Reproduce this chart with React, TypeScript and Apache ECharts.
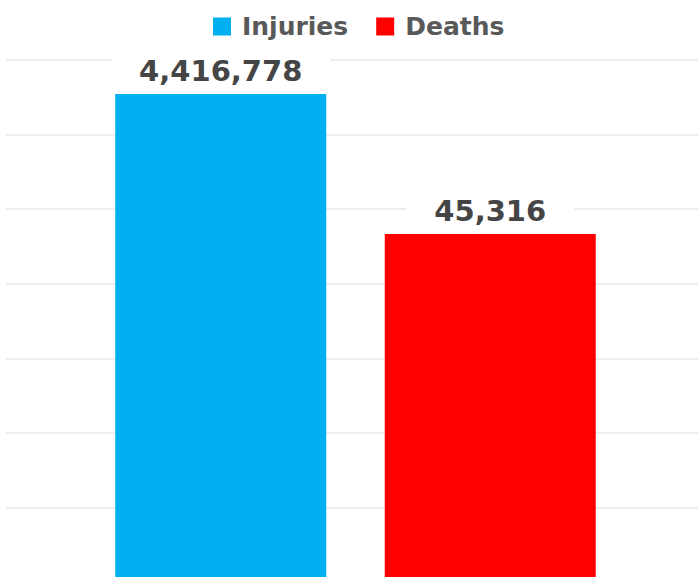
import React, { useEffect, useRef } from "react";
import * as echarts from "echarts";

const categories = ["Injuries", "Deaths"];
const injuries = [4416778, "-"];
const deaths = ["-", 45316];
const gridTicks = [0, 1, 2, 3, 4, 5, 6, 7];

export default function App() {
  const ref = useRef<HTMLDivElement>(null);
  useEffect(() => {
    const chart = echarts.init(ref.current!, null, { renderer: "svg" });
    const font = "DejaVu Sans";
    const label = {
      show: true,
      position: "top",
      distance: 0,
      formatter: (p: any) => Number(p.value).toLocaleString("en-US"),
      color: "#454545",
      fontSize: 29,
      fontWeight: "bold",
      fontFamily: font,
      backgroundColor: "#ffffff",
      padding: [6, 28, 8, 28],
    };
    chart.setOption({
      animation: false,
      backgroundColor: "#ffffff",
      legend: {
        left: 208,
        top: 9,
        itemWidth: 18,
        itemHeight: 18,
        itemGap: 28,
        icon: "rect",
        data: categories,
        textStyle: {
          color: "#595959",
          fontSize: 25,
          fontWeight: "bold",
          fontFamily: font,
          padding: [0, 0, 0, 6],
        },
      },
      grid: [
        { left: 6, width: 692, top: 60, height: 522, outerBoundsMode: "none", containLabel: false },
        { left: 86, right: 73, top: 60, bottom: 0, outerBoundsMode: "none", containLabel: false },
      ],
      xAxis: [
        { gridIndex: 0, type: "value", show: false },
        {
          gridIndex: 1,
          type: "category",
          data: categories,
          axisLine: { show: false },
          axisTick: { show: false },
          axisLabel: { show: false },
        },
      ],
      yAxis: [
        {
          gridIndex: 0,
          type: "value",
          min: gridTicks[0],
          max: gridTicks[gridTicks.length - 1],
          interval: 1,
          axisLine: { show: false },
          axisTick: { show: false },
          axisLabel: { show: false },
          splitLine: { show: true, lineStyle: { color: "#e9e9e9", width: 1.5 } },
        },
        {
          gridIndex: 1,
          type: "log",
          logBase: 10,
          min: 0.6076,
          max: 13430000,
          startValue: 0.6076,
          axisLine: { show: false },
          axisTick: { show: false },
          axisLabel: { show: false },
          splitLine: { show: false },
        },
      ],
      series: [
        {
          name: "Injuries",
          type: "bar",
          xAxisIndex: 1,
          yAxisIndex: 1,
          data: injuries,
          barWidth: 211,
          barGap: "-100%",
          itemStyle: { color: "#00B0F0" },
          label,
        },
        {
          name: "Deaths",
          type: "bar",
          xAxisIndex: 1,
          yAxisIndex: 1,
          data: deaths,
          barWidth: 211,
          barGap: "-100%",
          itemStyle: { color: "#FF0000" },
          label,
        },
      ],
    });
    return () => chart.dispose();
  }, []);
  return (
    <div
      ref={ref}
      style={{ position: "fixed", left: 0, top: 0, width: 698, height: 577 }}
    />
  );
}
